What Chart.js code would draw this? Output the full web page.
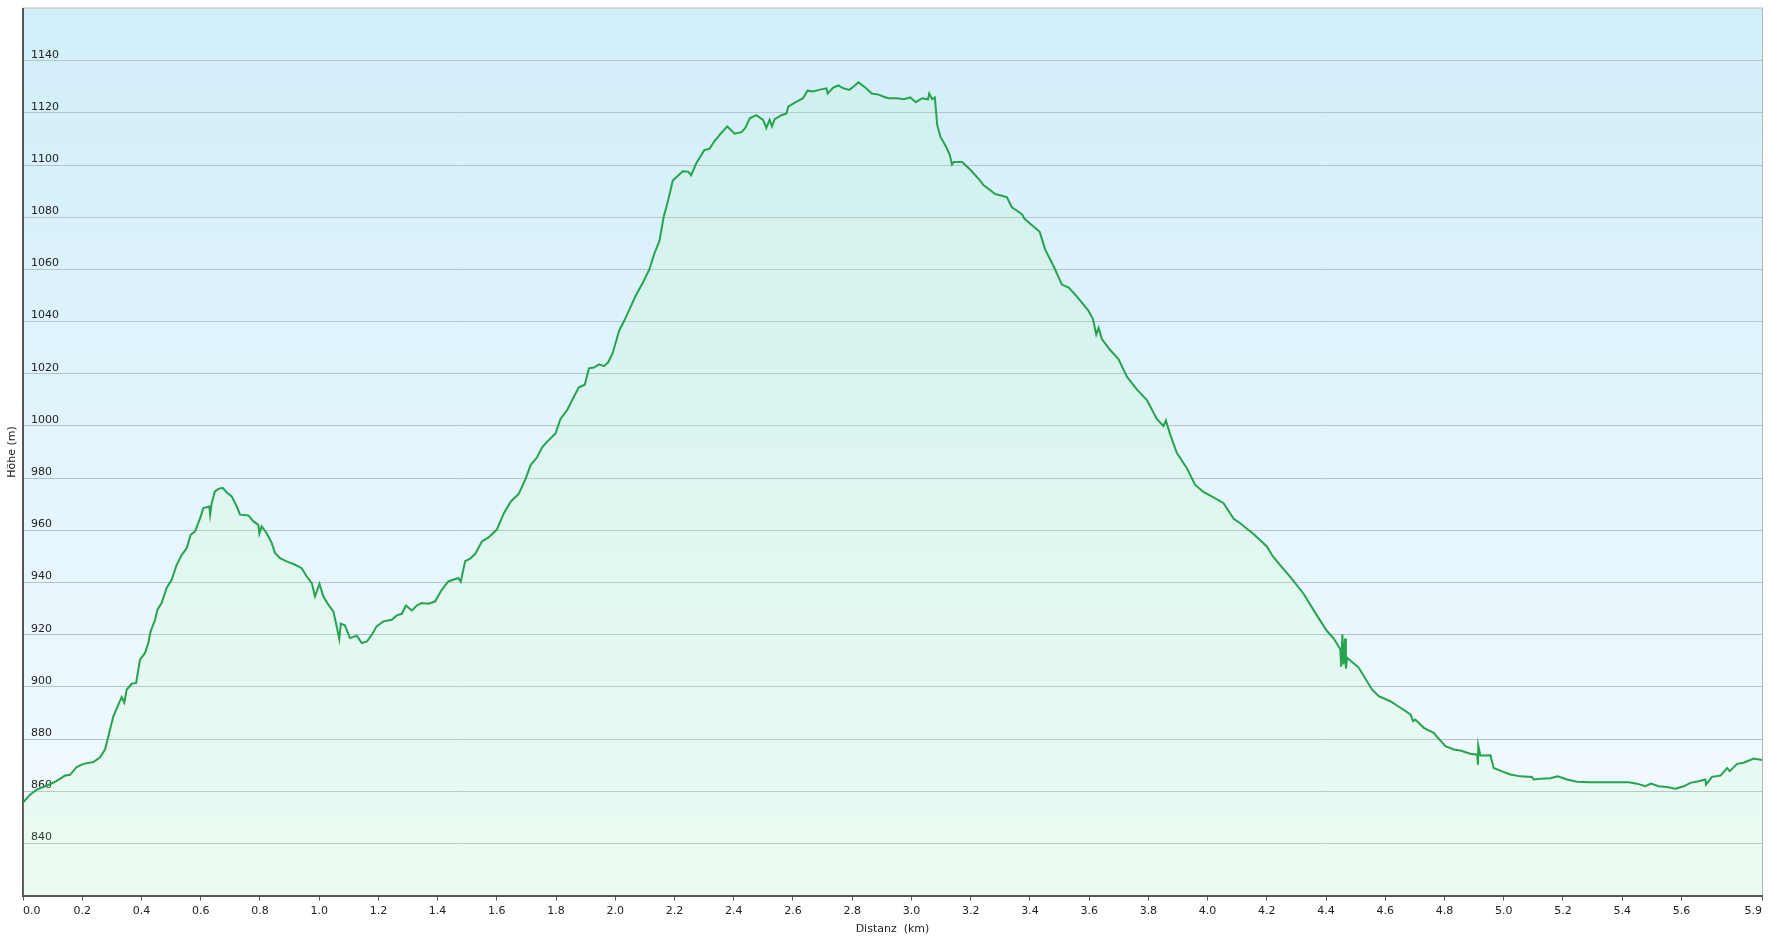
<!DOCTYPE html>
<html lang="de">

<head>
    <meta charset="UTF-8">
    <title>Höhenprofil</title>
    <script src="https://cdn.jsdelivr.net/npm/chart.js@4.4.1/dist/chart.umd.min.js"></script>
    <style>
        body {
            margin: 0;
            background-color: #fff;
            font-family: "DejaVu Sans", Verdana, sans-serif;
        }

        #chartContainer {
            position: relative;
            width: 1772px;
            height: 942px;
        }
    </style>
</head>

<body>
    <div id="chartContainer">
        <canvas id="profileChart"></canvas>
    </div>

    <script>
        const distKm = [
            0.000, 0.024, 0.046, 0.080, 0.114, 0.142, 0.159, 0.181, 0.204, 0.238,
            0.260, 0.277, 0.288, 0.305, 0.322, 0.333, 0.342, 0.350, 0.367, 0.382,
            0.395, 0.412, 0.423, 0.431, 0.446, 0.454, 0.468, 0.485, 0.502, 0.519,
            0.536, 0.553, 0.566, 0.581, 0.598, 0.609, 0.629, 0.632, 0.637, 0.648,
            0.660, 0.674, 0.690, 0.705, 0.722, 0.733, 0.761, 0.778, 0.795, 0.798,
            0.806, 0.823, 0.840, 0.851, 0.868, 0.890, 0.919, 0.941, 0.958, 0.975,
            0.986, 0.992, 1.001, 1.014, 1.031, 1.048, 1.057, 1.068, 1.073, 1.087,
            1.104, 1.127, 1.144, 1.161, 1.178, 1.194, 1.217, 1.245, 1.262, 1.279,
            1.293, 1.313, 1.330, 1.346, 1.369, 1.391, 1.414, 1.436, 1.470, 1.478,
            1.493, 1.510, 1.527, 1.550, 1.572, 1.600, 1.623, 1.646, 1.674, 1.697,
            1.714, 1.736, 1.753, 1.770, 1.798, 1.815, 1.838, 1.860, 1.877, 1.897,
            1.911, 1.928, 1.945, 1.962, 1.976, 1.991, 2.013, 2.030, 2.047, 2.070,
            2.092, 2.115, 2.132, 2.149, 2.164, 2.177, 2.194, 2.205, 2.228, 2.247,
            2.256, 2.273, 2.301, 2.318, 2.335, 2.358, 2.378, 2.403, 2.426, 2.439,
            2.454, 2.476, 2.499, 2.510, 2.521, 2.529, 2.538, 2.561, 2.578, 2.584,
            2.606, 2.634, 2.649, 2.668, 2.691, 2.713, 2.717, 2.736, 2.753, 2.770,
            2.790, 2.804, 2.821, 2.844, 2.866, 2.889, 2.906, 2.923, 2.951, 2.974,
            2.996, 3.015, 3.036, 3.056, 3.060, 3.070, 3.079, 3.087, 3.098, 3.117,
            3.129, 3.137, 3.143, 3.171, 3.198, 3.232, 3.243, 3.283, 3.322, 3.339,
            3.373, 3.381, 3.407, 3.433, 3.452, 3.480, 3.508, 3.531, 3.559, 3.598,
            3.613, 3.624, 3.632, 3.643, 3.671, 3.699, 3.728, 3.761, 3.795, 3.829,
            3.851, 3.859, 3.874, 3.896, 3.930, 3.958, 3.986, 4.020, 4.054, 4.088,
            4.110, 4.155, 4.200, 4.220, 4.245, 4.279, 4.324, 4.369, 4.403, 4.426,
            4.448, 4.451, 4.455, 4.459, 4.464, 4.467, 4.471, 4.510, 4.555, 4.578,
            4.617, 4.651, 4.685, 4.694, 4.701, 4.730, 4.763, 4.803, 4.831, 4.853,
            4.887, 4.910, 4.913, 4.914, 4.921, 4.955, 4.966, 4.988, 5.022, 5.056,
            5.095, 5.101, 5.124, 5.157, 5.182, 5.214, 5.247, 5.292, 5.349, 5.422,
            5.450, 5.478, 5.497, 5.523, 5.551, 5.580, 5.608, 5.630, 5.658, 5.681,
            5.683, 5.703, 5.732, 5.754, 5.763, 5.788, 5.810, 5.844, 5.872
        ];
        const elevM = [
            855.7, 858.7, 860.6, 862.1, 864.0, 866.0, 866.3, 869.3, 870.5, 871.2,
            873.0, 876.0, 881.0, 888.7, 893.2, 896.1, 894.0, 898.9, 901.2, 901.5,
            910.4, 913.0, 916.8, 921.3, 925.7, 929.6, 932.1, 937.9, 941.0, 946.8,
            950.6, 953.2, 958.3, 959.6, 964.7, 968.5, 969.1, 966.0, 970.4, 974.9,
            975.9, 976.3, 974.3, 973.0, 969.1, 966.0, 965.7, 963.4, 962.1, 958.7,
            961.5, 958.9, 955.1, 951.3, 949.3, 948.1, 946.8, 945.5, 942.3, 939.8,
            934.7, 936.6, 939.5, 934.7, 931.5, 928.9, 924.4, 918.3, 924.2, 923.6,
            918.7, 919.6, 916.8, 917.4, 920.0, 923.2, 925.1, 925.7, 927.4, 928.0,
            931.2, 929.3, 931.2, 932.1, 931.9, 932.7, 937.2, 940.4, 941.7, 940.3,
            948.2, 949.1, 951.0, 955.8, 957.3, 960.3, 966.4, 970.9, 974.0, 979.7,
            985.0, 988.0, 991.8, 994.0, 997.1, 1002.7, 1006.2, 1011.2, 1014.8, 1015.8,
            1022.1, 1022.4, 1023.6, 1022.9, 1024.4, 1027.9, 1036.5, 1040.3, 1044.5, 1050.2,
            1054.7, 1060.0, 1066.1, 1070.9, 1080.5, 1085.8, 1094.1, 1095.2, 1097.6, 1097.4,
            1096.1, 1100.6, 1105.8, 1106.2, 1109.2, 1112.3, 1114.8, 1112.0, 1112.6, 1114.2,
            1117.9, 1119.1, 1117.3, 1114.2, 1117.3, 1114.8, 1117.6, 1119.1, 1119.8, 1122.4,
            1123.9, 1125.6, 1128.5, 1128.2, 1128.9, 1129.4, 1127.4, 1129.7, 1130.5, 1129.4,
            1128.8, 1130.0, 1131.7, 1129.7, 1127.4, 1127.0, 1126.2, 1125.6, 1125.6, 1125.2,
            1125.9, 1124.1, 1125.6, 1125.2, 1127.4, 1125.2, 1125.9, 1115.3, 1110.8, 1107.0,
            1104.0, 1100.2, 1101.2, 1101.2, 1098.3, 1094.0, 1092.3, 1088.9, 1087.7, 1083.8,
            1081.2, 1079.5, 1076.9, 1074.4, 1067.5, 1061.2, 1054.2, 1053.0, 1049.6, 1044.1,
            1041.0, 1035.0, 1037.6, 1033.3, 1029.1, 1025.6, 1018.8, 1014.0, 1009.9, 1002.6,
            1000.0, 1002.1, 996.6, 989.7, 983.8, 977.4, 974.7, 972.6, 970.4, 964.4,
            962.7, 958.6, 953.8, 950.1, 946.7, 942.2, 935.7, 927.4, 921.4, 918.5,
            914.4, 907.7, 920.2, 908.6, 918.5, 907.0, 911.2, 907.4, 899.0, 896.4,
            894.5, 892.0, 889.4, 886.9, 887.5, 884.3, 882.4, 877.3, 876.0, 875.6,
            874.4, 874.0, 870.2, 877.5, 873.7, 873.8, 868.9, 867.9, 866.4, 865.7,
            865.5, 864.5, 864.8, 865.0, 865.7, 864.5, 863.6, 863.4, 863.4, 863.4,
            862.9, 861.9, 862.9, 861.9, 861.6, 861.0, 861.9, 863.2, 863.8, 864.5,
            862.5, 865.5, 866.0, 868.9, 867.7, 870.5, 870.9, 872.5, 872.0
        ];

        // Achsenbeschriftungen
        const xTicks = [
            0.0, 0.2, 0.4, 0.6, 0.8, 1.0, 1.2, 1.4, 1.6, 1.8, 2.0, 2.2, 2.4, 2.6, 2.8,
            3.0, 3.2, 3.4, 3.6, 3.8, 4.0, 4.2, 4.4, 4.6, 4.8, 5.0, 5.2, 5.4, 5.6, 5.872
        ];
        const yTicks = [840, 860, 880, 900, 920, 940, 960, 980, 1000, 1020, 1040, 1060, 1080, 1100, 1120, 1140];

        const points = distKm.map((d, i) => ({ x: d, y: elevM[i] }));

        // Hintergrund des Diagrammbereichs: Verlauf von hellblau nach weiss
        const plotBackground = {
            id: 'plotBackground',
            beforeDraw(chart)
            {
                const { ctx, chartArea } = chart;
                const g = ctx.createLinearGradient(0, chartArea.top, 0, chartArea.bottom);
                g.addColorStop(0, '#d1eefa');
                g.addColorStop(1, '#f4fbfe');
                ctx.save();
                ctx.fillStyle = g;
                ctx.fillRect(chartArea.left, chartArea.top, chartArea.right - chartArea.left, chartArea.bottom - chartArea.top);
                ctx.strokeStyle = '#b4b4b4';
                ctx.lineWidth = 1;
                ctx.strokeRect(chartArea.left + 0.5, chartArea.top - 0.5, chartArea.right - chartArea.left, chartArea.bottom - chartArea.top + 1);
                ctx.restore();
            }
        };

        const ctx = document.getElementById('profileChart').getContext('2d');
        Chart.defaults.font.family = '"DejaVu Sans", Verdana, sans-serif';
        Chart.defaults.font.size = 11;
        Chart.defaults.color = '#222';

        new Chart(ctx, {
            type: 'line',
            data: {
                datasets: [{
                    label: 'Höhe',
                    data: points,
                    borderColor: '#27a34f',
                    borderWidth: 2,
                    backgroundColor: 'rgba(180, 255, 160, 0.12)',
                    fill: 'start',
                    pointRadius: 0,
                    tension: 0
                }]
            },
            options: {
                responsive: true,
                maintainAspectRatio: false,
                animation: false,
                layout: {
                    padding: { top: 8.5, right: 10, left: 2, bottom: 2 }
                },
                plugins: {
                    legend: { display: false },
                    tooltip: { enabled: false }
                },
                scales: {
                    x: {
                        type: 'linear',
                        min: 0,
                        max: 5.872,
                        afterBuildTicks: (scale) => { scale.ticks = xTicks.map(v => ({ value: v })); },
                        ticks: {
                            autoSkip: false,
                            maxRotation: 0,
                            align: 'inner',
                            padding: 4,
                            callback: (v) => Number(v).toFixed(1)
                        },
                        grid: {
                            drawOnChartArea: false,
                            drawTicks: true,
                            tickLength: 5,
                            tickColor: '#555'
                        },
                        border: { color: '#555', width: 2 },
                        title: {
                            display: true,
                            text: 'Distanz  (km)',
                            padding: { top: 1, bottom: 4 }
                        }
                    },
                    y: {
                        type: 'linear',
                        min: 820,
                        max: 1160,
                        afterBuildTicks: (scale) => { scale.ticks = yTicks.map(v => ({ value: v })); },
                        afterFit: (scale) => {
                            scale.width = 21;
                            scale.paddingTop = 0;
                            scale.paddingBottom = 0;
                        },
                        ticks: {
                            mirror: true,
                            padding: 8,
                            labelOffset: -6,
                            callback: (v) => String(v)
                        },
                        grid: {
                            color: '#b4c4cc',
                            drawTicks: false
                        },
                        border: { color: '#555', width: 2 },
                        title: {
                            display: true,
                            text: 'Höhe (m)',
                            padding: { top: 4, bottom: 4 }
                        }
                    }
                }
            },
            plugins: [plotBackground]
        });
    </script>
</body>

</html>
